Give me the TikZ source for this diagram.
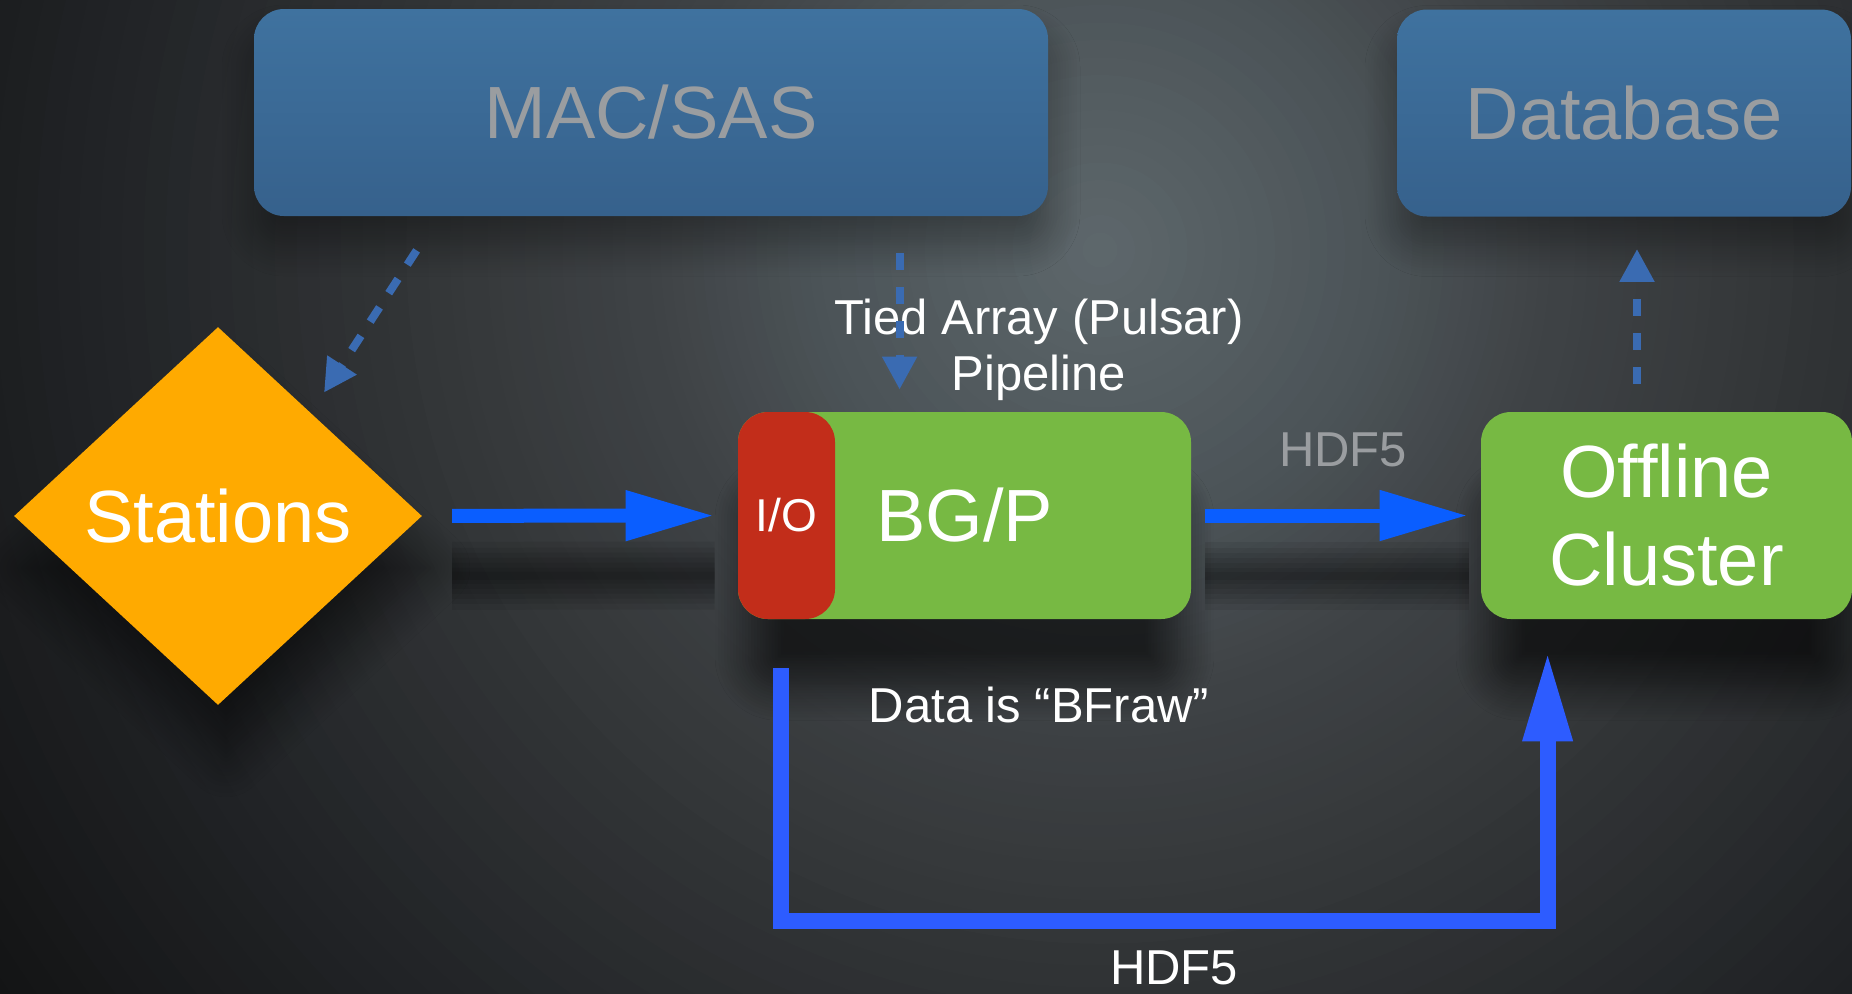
\documentclass[tikz,border=0pt]{standalone}
\usepackage{fontspec}
\setmainfont{Liberation Sans}
\usetikzlibrary{positioning,shapes,shadows,shadows.blur,arrows.meta}

\definecolor{slidebgA}{HTML}{5E686C}
\definecolor{slidebgB}{HTML}{4C5458}
\definecolor{slidebgC}{HTML}{3F4346}
\definecolor{slidebgD}{HTML}{35383A}
\definecolor{slidebgE}{HTML}{222427}
\definecolor{slidebgF}{HTML}{131415}
\definecolor{mactop}{HTML}{3F729F}
\definecolor{macbottom}{HTML}{36618C}
\definecolor{macgray}{HTML}{9A9DA0}
\definecolor{bgpgreen}{HTML}{77B943}
\definecolor{iored}{HTML}{C22D1A}
\definecolor{stationorange}{HTML}{FFAA00}
\definecolor{flowblue}{HTML}{0A5EFF}
\definecolor{loopblue}{HTML}{2D5CFF}
\definecolor{ctrlblue}{HTML}{3A6BB2}

\tikzset{
  panel/.style={
    % The shape:
    rectangle, rounded corners=15pt,
    % The size:
    minimum height=103.5pt,
    % The filling:
    top color=mactop, bottom color=macbottom,
    blur shadow={shadow xshift=0pt,shadow yshift=-14pt,shadow blur radius=16pt,shadow blur steps=12,shadow opacity=35},
    % Font
    text=macgray, font=\fontsize{37}{44}\selectfont
  },
  station/.style={
    % The shape:
    diamond, inner sep=0pt,
    % The size:
    minimum width=204pt, minimum height=189pt,
    % The filling:
    fill=stationorange,
    blur shadow={shadow xshift=4pt,shadow yshift=-26pt,shadow blur radius=20pt,shadow blur steps=12,shadow opacity=50},
    % Font
    text=white, font=\fontsize{37}{44}\selectfont
  },
  cluster/.style={
    % The shape:
    rectangle, rounded corners=15pt,
    % The size:
    minimum height=103.5pt,
    % The filling:
    fill=bgpgreen,
    blur shadow={shadow xshift=0pt,shadow yshift=-38pt,shadow scale=0.95,shadow blur radius=18pt,shadow blur steps=12,shadow opacity=60},
    % Font
    text=white, align=center, font=\fontsize{37}{44}\selectfont
  },
  ionode/.style={
    rectangle, rounded corners=15pt, inner sep=0pt,
    minimum width=48.5pt, minimum height=103.5pt,
    fill=iored,
    text=white, font=\fontsize{23}{27}\selectfont
  },
  remark/.style={inner sep=0pt, text=white, font=\fontsize{24.5}{28}\selectfont},
  flow shadow/.style={preaction={draw=black, draw opacity=.07, -{}, line width=#1, line cap=butt,
                      transform canvas={yshift=-30pt}}},
  flow/.style={draw=flowblue, line width=7pt, -{Triangle[length=44.5pt,width=23.5pt]},
               flow shadow/.list={34pt,28pt,23pt,18pt,13pt,8pt,4pt}},
  loopflow/.style={draw=loopblue, line width=8pt, line join=miter, -{Triangle[length=45pt,width=23pt]}},
  control/.style={draw=ctrlblue, line width=4pt, dash pattern=on 8.5pt off 8.5pt,
                  -{Triangle[length=16.5pt,width=16.5pt]}}
}

\begin{document}
\begin{tikzpicture}[x=0.5pt,y=-0.5pt]
  \useasboundingbox (0,0) rectangle (1852,993);
  \begin{scope}
    \clip (0,0) rectangle (1852,993);
    \fill[slidebgF] (0,0) rectangle (1852,993);
    \foreach \ra/\rb/\ca/\cb in {1340/1000/slidebgF/slidebgE, 1000/650/slidebgE/slidebgD,
                                 650/450/slidebgD/slidebgC, 450/280/slidebgC/slidebgB,
                                 280/0/slidebgB/slidebgA}
      \foreach \k in {0,...,15} {
        \pgfmathsetmacro\rr{\ra-(\ra-\rb)*\k/16}
        \pgfmathsetmacro\pp{100*\k/16}
        \fill[\cb!\pp!\ca] (1100,250) circle (\rr);
      }
  \end{scope}

  % control side
  \node (macsas)   [panel, minimum width=397pt] at (651,112.5) {MAC/SAS};
  \node (database) [panel, minimum width=227pt] at (1624,113)  {Database};

  % data path
  \node (stations) [station] at (218,516) {Stations};
  \node (bgp)      [cluster, minimum width=226.5pt] at (964.5,515.5) {BG/P};
  \node (io)       [ionode, anchor=west] at (bgp.west) {I/O};
  \node (offline)  [cluster, minimum width=185.5pt] at (1666.5,515.5) {Offline\\Cluster};

  \node (pipelabel) [remark, align=center] at (1039,350) {Tied Array (Pulsar)\\Pipeline};
  \node (hdflabel)  [remark, text=macgray] at (1343,449.5) {HDF5};
  \node (rawlabel)  [remark] at (1039,705) {Data is “BFraw”};
  \node (looplabel) [remark] at (1174,968) {HDF5};

  \draw[flow, shorten <=15pt, shorten >=11.5pt] (stations) -- (io);
  \draw[flow, shorten <=7pt, shorten >=6pt] (bgp) -- (offline);
  \draw[loopflow] ([xshift=-2.75pt,yshift=-24.5pt]io.south) -- ++(0,253)
    -| ([xshift=33.5pt,yshift=-16pt]offline.south west);

  % dashed control lines
  \coordinate (ctrlout) at ([xshift=81.5pt,yshift=-17pt]macsas.south west);
  \coordinate (ctrlin)  at ([xshift=53pt,yshift=-33pt]stations.north);
  \draw[control] (ctrlout) -- (ctrlin);
  \coordinate (feed) at ([xshift=81pt]bgp.north west);
  \draw[control, shorten <=18.5pt, shorten >=11pt] (macsas.south -| feed) -- (feed);
  \coordinate (archive) at ([xshift=-14.75pt]offline.north);
  \draw[control, shorten <=14pt, shorten >=16pt] (archive) -- (archive |- database.south);
\end{tikzpicture}
\end{document}
